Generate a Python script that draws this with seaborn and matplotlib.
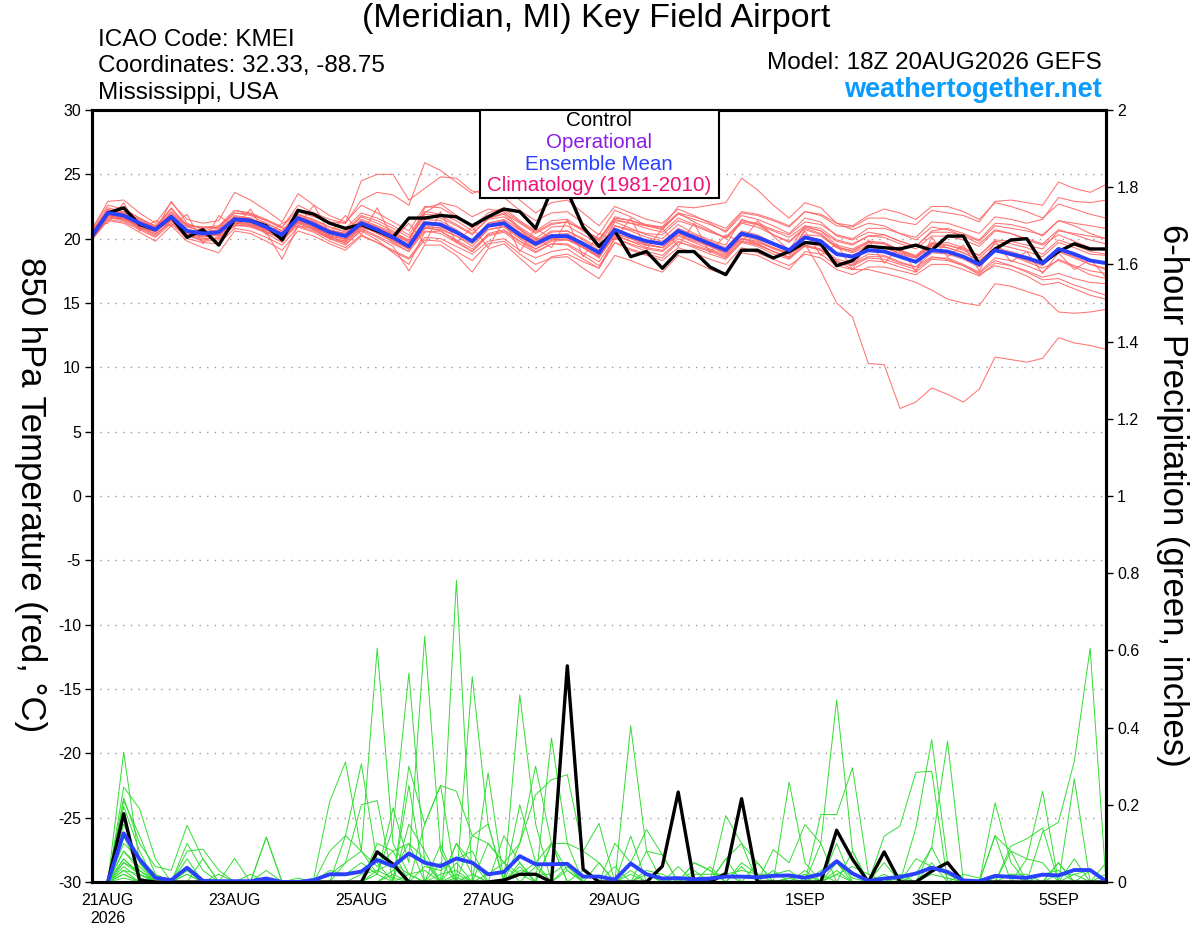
import pandas as pd
import numpy as np
import matplotlib
matplotlib.use("Agg")
import matplotlib.pyplot as plt
from matplotlib.patches import Rectangle
import seaborn as sns

###################################################################################
#################################### DATA #######################################
###################################################################################

# 6-hourly valid times, 20AUG2026 18Z .. 05SEP2026 18Z (65 steps)
times = pd.date_range("2026-08-20 18:00", "2026-09-05 18:00", freq="6h")

# 850 hPa temperature (C) - control run and ensemble mean
control_t = [20.2, 22.0, 22.4, 21.1, 20.7, 21.7, 20.1, 20.7, 19.5, 21.5, 21.4, 21.0, 19.9,
             22.2, 21.9, 21.2, 20.8, 21.1, 20.6, 20.1, 21.6, 21.6, 21.8, 21.7, 21.0, 21.7,
             22.3, 22.1, 20.8, 23.8, 23.7, 20.9, 19.4, 20.6, 18.6, 19.0, 17.7, 19.0, 19.0,
             17.8, 17.2, 19.1, 19.1, 18.5, 19.0, 19.7, 19.6, 17.9, 18.3, 19.4, 19.3, 19.2,
             19.5, 19.1, 20.2, 20.2, 18.0, 19.2, 19.9, 20.0, 18.1, 19.0, 19.6, 19.2, 19.2]
mean_t = [20.2, 22.0, 21.8, 21.2, 20.7, 21.7, 20.6, 20.4, 20.5, 21.5, 21.4, 20.9, 20.3,
          21.6, 21.1, 20.5, 20.2, 21.2, 20.7, 20.1, 19.4, 21.2, 21.1, 20.5, 19.8, 21.0,
          21.2, 20.3, 19.6, 20.2, 20.2, 19.6, 18.9, 20.7, 20.2, 19.8, 19.6, 20.6, 20.1,
          19.6, 19.1, 20.4, 20.1, 19.6, 19.1, 20.1, 19.8, 18.8, 18.6, 19.1, 19.0, 18.6,
          18.2, 19.1, 19.0, 18.6, 18.0, 19.1, 18.8, 18.5, 18.1, 19.2, 18.8, 18.3, 18.1]

# 850 hPa temperature (C) - ensemble members
t_m01 = [20.6, 22.4, 22.1, 21.5, 21.0, 22.3, 21.0, 20.9, 20.8, 22.0, 21.9, 21.4, 20.9,
         22.3, 21.8, 21.2, 20.8, 22.0, 21.6, 21.0, 20.3, 22.1, 21.9, 21.4, 20.6, 21.8,
         22.2, 21.3, 20.5, 21.2, 21.3, 20.7, 19.9, 21.7, 21.4, 21.0, 20.8, 21.9, 21.5,
         21.1, 20.6, 22.0, 21.8, 21.4, 20.9, 22.1, 21.8, 21.0, 20.9, 21.6, 21.6, 21.3,
         21.1, 22.2, 22.0, 21.8, 21.3, 22.9, 23.0, 22.8, 22.6, 24.4, 23.9, 23.6, 24.2]
t_m02 = [20.0, 21.6, 21.5, 20.9, 20.3, 21.4, 20.2, 19.9, 20.1, 21.2, 21.0, 20.6, 19.9,
         21.4, 20.8, 20.1, 19.8, 20.9, 20.5, 19.7, 19.0, 20.8, 20.7, 20.2, 19.4, 20.7,
         20.9, 20.0, 19.2, 19.9, 20.0, 19.3, 18.6, 20.4, 20.0, 19.5, 19.3, 20.5, 20.0,
         19.4, 18.8, 20.2, 19.9, 19.3, 18.9, 19.6, 17.5, 15.0, 13.9, 10.3, 10.2, 6.8,
         7.3, 8.4, 7.9, 7.3, 8.3, 10.8, 10.6, 10.4, 10.7, 12.3, 11.9, 11.7, 11.4]
t_m03 = [20.3, 21.8, 21.6, 21.0, 20.5, 21.5, 20.4, 20.3, 20.2, 21.3, 21.2, 20.7, 20.0,
         21.3, 20.9, 20.2, 20.0, 21.0, 20.4, 19.8, 19.2, 21.0, 20.8, 20.2, 19.6, 20.7,
         21.0, 20.1, 19.4, 20.0, 19.9, 19.3, 18.7, 20.4, 20.0, 19.6, 19.3, 20.3, 19.8,
         19.4, 18.9, 20.0, 19.8, 19.2, 18.8, 19.5, 19.2, 18.3, 17.6, 17.6, 17.3, 17.0,
         16.6, 16.0, 15.3, 15.0, 14.8, 16.5, 16.3, 15.9, 15.5, 14.3, 14.2, 14.3, 14.5]
t_m04 = [20.8, 22.6, 22.3, 21.6, 21.0, 22.1, 21.1, 20.8, 20.9, 22.2, 22.0, 21.5, 20.9,
         22.6, 22.0, 21.5, 21.2, 23.0, 23.6, 23.4, 22.6, 25.9, 25.3, 24.4, 23.5, 24.0,
         24.3, 23.0, 22.0, 22.8, 23.0, 22.0, 21.0, 22.5, 22.0, 21.5, 21.2, 22.3, 21.8,
         21.2, 20.5, 21.8, 21.5, 21.0, 20.4, 21.6, 21.3, 20.2, 19.9, 20.5, 20.3, 19.8,
         19.4, 20.5, 20.5, 20.3, 19.8, 21.0, 20.8, 20.6, 20.3, 21.4, 21.2, 21.0, 20.8]
t_m05 = [20.5, 22.2, 22.0, 21.3, 20.9, 21.9, 20.9, 20.6, 20.9, 22.0, 21.8, 21.2, 20.6,
         22.1, 21.7, 21.3, 21.2, 24.5, 25.0, 25.0, 23.0, 23.9, 24.8, 24.7, 23.7, 23.5,
         23.2, 22.2, 21.4, 22.0, 22.1, 21.2, 20.3, 22.2, 21.7, 21.0, 20.7, 22.0, 21.3,
         20.7, 20.0, 21.2, 20.9, 20.3, 19.8, 20.9, 20.6, 19.5, 19.2, 19.8, 19.7, 19.1,
         18.6, 19.6, 19.7, 19.3, 18.7, 19.8, 19.6, 19.3, 18.8, 19.9, 19.5, 19.0, 18.8]
t_m06 = [19.9, 21.4, 21.2, 20.5, 19.8, 21.0, 19.8, 19.3, 18.9, 20.6, 20.4, 19.8, 19.1,
         20.6, 20.2, 19.6, 19.1, 20.2, 19.7, 19.1, 18.5, 20.1, 20.0, 19.4, 18.8, 19.8,
         20.0, 19.1, 18.5, 19.0, 19.2, 18.4, 17.7, 19.7, 19.1, 18.7, 18.3, 19.3, 18.9,
         18.4, 18.0, 19.3, 18.9, 18.4, 17.9, 18.8, 18.5, 17.6, 17.2, 17.8, 17.8, 17.5,
         17.2, 18.0, 18.0, 17.6, 17.1, 18.1, 17.9, 17.5, 17.0, 17.3, 16.9, 16.6, 16.5]
t_m07 = [20.1, 22.1, 22.3, 21.6, 20.8, 22.4, 21.0, 20.5, 20.4, 21.7, 21.6, 20.9, 20.2,
         21.8, 21.3, 20.7, 20.4, 21.5, 21.0, 20.5, 19.9, 21.9, 21.8, 21.1, 20.4, 21.5,
         21.7, 20.9, 20.1, 19.3, 21.5, 18.6, 20.4, 19.9, 21.6, 19.2, 20.8, 19.4, 21.2,
         18.9, 20.3, 19.7, 21.4, 20.2, 19.1, 21.0, 20.8, 19.9, 19.6, 20.2, 20.3, 19.8,
         19.4, 20.6, 20.8, 20.4, 19.9, 21.2, 21.1, 20.8, 20.2, 21.4, 21.0, 20.4, 20.0]
t_m08 = [20.4, 21.7, 21.4, 20.8, 20.2, 21.4, 20.3, 19.8, 19.9, 21.0, 21.0, 20.4, 19.7,
         21.3, 20.7, 20.0, 19.5, 20.7, 20.1, 19.4, 17.5, 19.5, 19.5, 18.7, 17.4, 19.2,
         19.6, 18.5, 17.4, 18.6, 18.8, 18.2, 17.7, 20.1, 19.5, 19.0, 18.7, 19.8, 19.3,
         18.8, 18.4, 19.7, 19.4, 18.8, 18.4, 19.5, 19.1, 18.2, 17.9, 18.5, 18.4, 18.0,
         17.6, 18.5, 18.5, 18.0, 17.4, 18.5, 18.3, 17.9, 17.4, 18.4, 17.9, 17.5, 17.3]
t_m09 = [20.7, 22.9, 23.0, 22.0, 21.2, 22.8, 21.5, 21.2, 21.4, 23.6, 23.0, 22.2, 21.3,
         23.5, 22.6, 21.8, 21.3, 22.6, 22.0, 21.3, 20.6, 22.5, 22.4, 21.7, 20.9, 22.0,
         22.4, 21.4, 20.6, 21.4, 21.5, 20.7, 20.0, 21.5, 21.2, 20.8, 20.5, 21.6, 21.1,
         20.6, 20.1, 21.3, 21.1, 20.6, 20.1, 21.0, 20.6, 19.8, 19.5, 20.2, 20.1, 19.6,
         19.2, 20.2, 20.2, 19.9, 19.4, 20.6, 20.4, 20.0, 19.6, 20.7, 20.3, 19.9, 19.6]
t_m10 = [20.0, 21.9, 21.7, 20.8, 20.6, 22.9, 21.2, 20.7, 20.2, 21.3, 21.1, 20.5, 18.4,
         21.0, 20.8, 20.3, 20.0, 21.0, 20.5, 19.9, 19.2, 20.9, 20.6, 19.9, 19.2, 20.3,
         20.6, 19.8, 19.2, 19.8, 19.9, 19.4, 18.6, 20.2, 19.8, 19.5, 19.3, 20.4, 19.9,
         19.5, 19.0, 20.0, 19.7, 19.3, 18.8, 20.7, 20.3, 19.4, 19.0, 19.7, 19.6, 19.0,
         18.6, 19.6, 19.3, 18.9, 18.3, 19.2, 18.7, 18.2, 17.7, 18.3, 17.8, 17.2, 16.9]
t_m11 = [20.3, 22.3, 21.9, 21.4, 20.9, 21.8, 20.5, 20.1, 20.4, 21.6, 21.5, 21.2, 20.6,
         21.9, 21.4, 20.9, 20.5, 21.7, 21.2, 20.6, 19.8, 22.4, 22.7, 21.8, 20.9, 21.6,
         21.9, 20.7, 19.7, 20.5, 20.6, 19.9, 19.1, 21.3, 20.8, 20.3, 20.0, 21.1, 20.4,
         19.9, 19.5, 21.5, 21.1, 20.3, 19.7, 20.8, 20.4, 19.3, 19.1, 19.7, 19.6, 19.1,
         18.7, 19.7, 19.5, 19.1, 18.5, 19.6, 19.3, 19.0, 18.6, 19.7, 19.3, 18.8, 18.7]
t_m12 = [20.2, 21.9, 21.6, 21.0, 20.6, 21.6, 20.7, 20.5, 20.7, 21.7, 21.5, 21.0, 20.5,
         21.7, 21.3, 20.7, 20.3, 21.3, 20.9, 20.4, 19.7, 21.3, 21.2, 20.5, 19.9, 21.0,
         21.3, 20.5, 19.8, 20.6, 20.6, 20.0, 19.3, 21.0, 20.7, 20.4, 20.3, 21.4, 21.0,
         20.5, 20.1, 21.4, 21.2, 20.7, 20.3, 21.3, 21.1, 20.3, 20.0, 20.8, 20.8, 20.4,
         20.1, 21.3, 21.2, 20.8, 20.4, 21.7, 21.5, 21.2, 21.5, 23.2, 22.9, 22.8, 23.0]
t_m13 = [20.5, 21.8, 21.5, 21.1, 20.8, 21.5, 20.4, 20.2, 20.3, 21.2, 21.1, 20.7, 20.1,
         21.4, 20.9, 20.3, 19.9, 20.9, 20.5, 19.9, 19.2, 20.8, 20.9, 20.4, 19.8, 21.2,
         21.5, 20.7, 20.0, 20.9, 21.0, 20.3, 19.6, 21.4, 21.2, 21.0, 20.9, 22.5, 22.4,
         22.6, 22.8, 24.7, 23.8, 22.6, 21.6, 22.8, 22.4, 21.2, 20.7, 21.2, 21.0, 20.4,
         19.9, 20.9, 20.7, 20.2, 19.6, 20.7, 20.4, 19.9, 19.5, 20.3, 19.8, 19.3, 19.1]
t_m14 = [20.9, 21.2, 22.8, 20.6, 21.4, 21.0, 21.9, 19.6, 21.8, 20.9, 22.3, 20.3, 21.2,
         21.7, 21.0, 20.2, 19.6, 20.6, 19.9, 18.9, 18.0, 20.5, 20.6, 19.8, 19.0, 20.4,
         20.7, 19.8, 19.0, 19.6, 19.5, 18.7, 17.9, 19.7, 19.2, 18.8, 18.5, 19.7, 19.4,
         19.0, 18.5, 19.8, 19.6, 19.0, 18.5, 19.7, 19.4, 18.4, 18.1, 18.8, 18.7, 18.2,
         17.8, 18.9, 18.8, 18.4, 17.8, 19.0, 18.8, 18.3, 17.9, 19.0, 18.5, 18.0, 17.7]
t_m15 = [20.4, 22.1, 21.7, 21.2, 20.7, 21.8, 20.7, 20.4, 20.6, 21.4, 21.3, 20.8, 20.2,
         21.5, 21.1, 20.6, 20.4, 21.4, 20.9, 20.3, 19.7, 21.5, 21.4, 20.7, 19.9, 21.2,
         21.4, 20.5, 19.7, 20.3, 20.4, 19.7, 19.0, 20.6, 20.2, 19.9, 19.7, 20.8, 20.3,
         19.8, 19.3, 20.6, 20.3, 19.7, 19.2, 20.2, 19.9, 18.9, 18.7, 19.4, 19.3, 18.9,
         18.5, 19.4, 19.3, 18.9, 18.3, 19.3, 19.0, 18.6, 18.1, 19.0, 18.6, 18.0, 17.6]
t_m16 = [20.0, 21.5, 21.3, 20.7, 20.1, 21.2, 20.0, 19.7, 19.6, 20.8, 20.6, 20.1, 19.5,
         20.9, 20.5, 19.8, 19.3, 20.3, 19.7, 19.0, 18.4, 19.9, 19.8, 19.0, 18.3, 19.6,
         19.8, 18.8, 18.0, 18.5, 18.6, 17.7, 16.9, 18.7, 18.3, 17.8, 17.4, 18.7, 18.2,
         17.6, 17.2, 18.9, 18.7, 18.1, 17.6, 19.0, 18.8, 17.9, 17.6, 18.3, 18.2, 17.8,
         17.4, 18.4, 18.3, 17.9, 17.3, 18.3, 17.9, 17.4, 16.8, 16.9, 16.4, 16.0, 15.6]
t_m17 = [20.6, 22.2, 21.8, 21.2, 20.8, 21.6, 20.6, 20.5, 20.7, 21.8, 21.6, 21.0, 20.4,
         21.9, 21.5, 20.9, 20.6, 21.8, 21.4, 20.8, 20.1, 21.7, 21.6, 21.0, 20.3, 21.6,
         22.0, 21.2, 20.4, 21.1, 21.3, 20.6, 19.8, 21.6, 21.4, 21.1, 20.9, 22.0, 21.7,
         21.3, 20.8, 22.1, 21.9, 21.5, 21.0, 22.1, 21.9, 21.2, 21.0, 21.8, 22.3, 22.0,
         21.5, 22.5, 22.5, 22.1, 21.5, 22.8, 22.5, 22.1, 21.6, 22.7, 22.3, 21.9, 21.6]
t_m18 = [20.2, 21.9, 21.6, 20.9, 20.4, 21.2, 20.2, 20.2, 20.4, 21.5, 21.2, 20.7, 20.1,
         21.2, 20.7, 20.1, 19.8, 21.0, 20.7, 20.3, 19.9, 22.0, 22.8, 22.5, 21.7, 22.3,
         22.1, 20.8, 19.9, 20.3, 20.1, 19.3, 18.5, 20.3, 19.8, 19.3, 19.1, 20.2, 19.7,
         19.2, 18.7, 20.0, 19.6, 19.0, 18.5, 19.4, 19.1, 18.2, 18.0, 18.6, 18.6, 18.1,
         17.8, 18.6, 18.4, 17.9, 17.2, 17.9, 17.6, 17.1, 16.4, 16.6, 16.1, 15.6, 15.3]
t_m19 = [20.3, 22.0, 22.1, 21.3, 20.8, 22.0, 21.0, 20.9, 21.0, 22.2, 21.9, 21.4, 20.8,
         21.0, 22.6, 20.4, 21.8, 20.3, 22.4, 20.0, 21.2, 19.6, 22.1, 19.7, 20.9, 19.3,
         21.4, 19.0, 20.8, 20.0, 20.1, 19.6, 19.0, 21.0, 20.6, 20.1, 19.8, 20.7, 20.1,
         19.6, 19.2, 20.4, 20.1, 19.5, 19.0, 20.3, 20.2, 19.3, 18.9, 19.5, 19.3, 18.8,
         18.5, 19.5, 19.5, 19.2, 18.7, 19.9, 19.8, 19.5, 19.2, 20.6, 20.4, 20.2, 20.0]
t_m20 = [19.9, 21.7, 21.5, 21.0, 20.6, 21.4, 20.3, 20.0, 20.0, 21.1, 20.9, 20.5, 20.0,
         21.0, 20.6, 20.0, 19.7, 20.8, 20.2, 19.6, 19.0, 20.6, 20.4, 19.7, 19.0, 20.2,
         20.5, 19.6, 18.9, 19.6, 19.6, 18.9, 18.2, 20.0, 19.6, 19.2, 19.0, 20.0, 19.5,
         19.1, 18.6, 19.8, 19.5, 19.0, 18.6, 20.6, 18.7, 19.6, 17.6, 19.9, 18.1, 19.4,
         17.4, 20.1, 18.6, 19.5, 17.5, 19.8, 18.2, 19.0, 17.3, 18.9, 17.6, 18.4, 17.0]

# 6-hour precipitation (inches), valid 21AUG 00Z .. 05SEP 18Z (64 steps)
control_p = [0, .177, .005, 0, 0, 0, 0, 0, 0, 0, 0, 0, 0, 0, 0, 0,
             0, .078, .046, 0, 0, 0, 0, 0, 0, .005, .02, .02, 0, .56, .033, 0,
             0, 0, 0, .041, .233, 0, 0, .022, .216, 0, 0, 0, 0, 0, .134, .059,
             0, .078, 0, 0, .028, .05, 0, 0, 0, 0, 0, 0, 0, 0, 0, 0]
mean_p = [0, .126, .059, .011, .005, .037, .003, .002, .002, .002, .009, 0, 0, .005, .02, .02,
          .027, .057, .041, .074, .05, .041, .061, .05, .02, .026, .067, .046, .046, .047, .014, .014,
          .006, .048, .02, .009, .01, .007, .009, .014, .014, .012, .016, .017, .011, .02, .054, .022,
          .003, .009, .013, .022, .037, .026, .004, .002, .016, .013, .011, .019, .017, .031, .031, .002]

p_m01 = [0, .336, .05, 0, 0, .02, 0, 0, 0, 0, .03, 0, 0, 0, .02, .05,
         .08, .606, .1, .02, 0, 0, .01, 0, 0, 0, .02, .05, .1, .03, 0, 0,
         0, .03, 0, 0, .01, 0, 0, .02, 0, 0, 0, .01, .02, 0, .05, 0,
         0, 0, 0, .02, .09, .01, 0, 0, 0, .02, 0, .13, .155, .313, .606, 0]
p_m02 = [0, .246, .19, .06, 0, .1, .03, 0, 0, 0, .116, 0, 0, 0, 0, 0,
         0, .02, .192, .05, .637, .08, 0, .02, 0, 0, .2, .05, 0, 0, 0, .05,
         0, .405, .08, 0, 0, 0, 0, .06, 0, 0, 0, .259, .05, 0, 0, .08,
         0, 0, .02, 0, 0, 0, 0, 0, .205, .05, 0, 0, 0, .02, 0, 0]
p_m03 = [0, .218, .1, .04, .03, .147, .06, 0, .061, 0, .116, 0, 0, .01, .208, .311,
         .08, .02, .14, .541, .05, 0, .1, .02, 0, .12, .05, 0, .373, .1, 0, 0,
         .1, .05, .136, .07, 0, 0, 0, 0, 0, 0, .084, .05, .149, .1, .472, .08,
         0, 0, 0, .14, .369, .05, 0, 0, 0, 0, .06, .235, 0, 0, 0, 0]
p_m04 = [0, .21, .12, .02, 0, .08, .085, .03, 0, .02, 0, 0, 0, 0, .08, .12,
         .306, .05, 0, .3, .15, .25, .235, .12, .1, .05, .1, .226, .265, .278, .08, .152,
         0, 0, 0, 0, .04, 0, 0, .172, .1, 0, 0, 0, 0, .175, .175, .296,
         .02, 0, 0, 0, .09, .365, 0, 0, 0, .093, .112, .14, 0, 0, 0, 0]
p_m05 = [0, .196, .08, 0, 0, .06, 0, 0, 0, 0, 0, 0, 0, 0, 0, .05,
         .2, .211, 0, .25, 0, 0, .782, 0, .283, 0, .485, .15, 0, 0, 0, 0,
         0, .119, 0, 0, 0, .05, .03, 0, 0, 0, 0, 0, 0, 0, .1, 0,
         0, .119, .145, .284, .287, 0, .02, .01, 0, 0, 0, 0, 0, .267, 0, .05]
p_m06 = [0, .15, .05, 0, 0, 0, 0, 0, 0, 0, 0, 0, 0, 0, 0, 0,
         0, .1, .08, .1, 0, .096, 0, .532, .15, 0, .1, .3, .1, 0, 0, 0,
         0, 0, 0, 0, 0, 0, 0, 0, 0, .05, 0, 0, 0, 0, 0, 0,
         0, 0, 0, 0, 0, 0, 0, 0, .12, .08, 0, 0, 0, .06, 0, 0]
p_m07 = [0, .12, .03, 0, 0, .02, 0, 0, 0, 0, 0, 0, 0, 0, 0, 0,
         0, 0, 0, 0, 0, .05, 0, 0, 0, 0, 0, 0, 0, 0, 0, 0,
         0, 0, 0, 0, 0, 0, 0, 0, 0, 0, 0, 0, 0, 0, 0, 0,
         0, 0, 0, 0, 0, 0, 0, 0, 0, 0, 0, 0, 0, 0, 0, 0]
p_m08 = [0, .1, .06, .02, 0, 0, 0, 0, 0, 0, 0, 0, 0, 0, 0, 0,
         .02, .03, .01, 0, 0, 0, 0, 0, 0, 0, .02, 0, 0, 0, 0, 0,
         0, .05, .02, 0, 0, .03, 0, 0, 0, 0, 0, 0, .03, 0, .02, 0,
         0, .02, 0, 0, 0, 0, 0, 0, 0, 0, 0, .02, .03, 0, .03, 0]
p_m09 = [0, .08, .04, 0, 0, .04, 0, .02, 0, 0, 0, 0, 0, 0, .03, .02,
         .05, .02, 0, .02, .03, 0, .05, 0, .02, .05, .02, .02, .02, .05, 0, 0,
         0, 0, .03, .02, 0, .02, .02, .02, .03, .02, .02, .03, 0, 0, .02, .04,
         .02, 0, .01, 0, .02, .01, 0, 0, .01, .02, .02, 0, .02, .02, .03, 0]
p_m10 = [0, .06, .02, 0, 0, 0, 0, 0, 0, 0, 0, 0, 0, 0, 0, 0,
         0, 0, 0, 0, 0, 0, 0, 0, 0, 0, 0, 0, 0, 0, 0, 0,
         0, 0, 0, 0, 0, 0, 0, 0, 0, 0, 0, 0, 0, 0, 0, 0,
         0, 0, 0, 0, 0, 0, 0, 0, 0, 0, 0, 0, 0, 0, 0, 0]
p_m11 = [0, .05, .03, 0, 0, .03, 0, 0, 0, 0, 0, 0, 0, 0, 0, 0,
         0, .03, .05, .02, 0, .02, .03, 0, 0, 0, .03, .02, 0, 0, .03, 0,
         0, .02, 0, 0, 0, 0, .04, 0, .05, .02, 0, .01, 0, 0, .03, 0,
         0, 0, 0, 0, 0, 0, 0, 0, 0, 0, 0, 0, .05, 0, 0, 0]
p_m12 = [0, .04, .01, 0, 0, 0, 0, 0, 0, 0, 0, 0, 0, 0, 0, 0,
         0, 0, 0, 0, 0, 0, 0, 0, 0, 0, 0, 0, 0, 0, 0, 0,
         0, 0, 0, 0, 0, 0, 0, 0, 0, 0, 0, 0, 0, 0, 0, 0,
         0, 0, 0, 0, 0, 0, 0, 0, 0, 0, 0, 0, 0, 0, 0, 0]
p_m13 = [0, .02, 0, 0, 0, 0, 0, 0, 0, 0, 0, 0, 0, 0, 0, 0,
         0, 0, 0, .15, .08, 0, .1, .05, 0, 0, .05, 0, .1, 0, 0, 0,
         0, 0, 0, 0, 0, 0, 0, 0, 0, 0, 0, 0, 0, .03, .05, .01,
         0, 0, 0, 0, 0, 0, 0, 0, 0, 0, 0, 0, 0, 0, 0, 0]
p_m14 = [0, .03, .02, 0, 0, 0, 0, 0, 0, 0, 0, 0, 0, 0, 0, 0,
         0, 0, 0, 0, 0, 0, 0, 0, 0, 0, 0, 0, 0, 0, 0, 0,
         0, 0, 0, 0, 0, 0, 0, 0, 0, 0, 0, 0, 0, 0, 0, 0,
         0, 0, 0, 0, 0, 0, 0, 0, 0, 0, 0, 0, 0, 0, 0, 0]
p_m15 = [0, .01, 0, 0, 0, 0, 0, 0, 0, 0, 0, 0, 0, 0, 0, 0,
         0, 0, 0, 0, 0, 0, 0, 0, 0, 0, 0, 0, 0, 0, 0, 0,
         0, 0, 0, 0, 0, 0, 0, 0, 0, 0, 0, 0, 0, 0, 0, 0,
         0, 0, 0, 0, 0, 0, 0, 0, 0, 0, 0, 0, 0, 0, 0, 0]
p_m16 = [0, .08, .03, 0, 0, 0, .06, 0, 0, 0, 0, 0, 0, 0, 0, .12,
         .08, .04, .08, 0, .15, .25, 0, .12, .15, 0, .04, 0, .1, .1, .08, .05,
         0, 0, .08, .07, 0, 0, 0, .06, .1, .05, 0, 0, 0, .1, 0, 0,
         0, .05, 0, 0, .05, 0, 0, 0, .12, 0, 0, 0, 0, 0, 0, 0]
p_m17 = [0, .05, .02, 0, 0, 0, 0, 0, 0, 0, 0, 0, .01, 0, 0, 0,
         0, 0, .03, .1, .06, 0, .02, 0, .1, .05, 0, 0, 0, .04, 0, 0,
         0, 0, 0, 0, 0, .05, .03, 0, 0, 0, 0, 0, 0, 0, 0, 0,
         0, 0, 0, .06, .04, .02, 0, 0, 0, .08, .06, .05, 0, 0, 0, 0]
p_m18 = [0, .03, 0, 0, 0, 0, 0, 0, 0, 0, 0, 0, 0, 0, 0, 0,
         0, 0, .02, 0, .04, .03, .06, .08, 0, 0, 0, .04, 0, .03, 0, 0,
         .04, 0, .02, 0, 0, 0, 0, 0, .04, 0, .03, 0, 0, .02, 0, 0,
         0, 0, 0, 0, 0, 0, 0, 0, 0, 0, 0, 0, 0, 0, 0, 0]
p_m19 = [0, .02, 0, 0, 0, 0, 0, 0, 0, 0, 0, 0, 0, 0, 0, 0,
         0, 0, 0, 0, 0, 0, 0, 0, 0, 0, 0, 0, 0, 0, 0, 0,
         0, 0, 0, 0, 0, 0, 0, 0, 0, 0, 0, 0, 0, 0, 0, 0,
         0, 0, 0, 0, 0, 0, 0, 0, 0, 0, 0, 0, 0, 0, 0, 0]
p_m20 = [0, .06, .02, 0, 0, .03, 0, 0, 0, 0, 0, 0, 0, 0, 0, 0,
         0, 0, 0, 0, 0, 0, 0, 0, 0, 0, 0, 0, 0, 0, 0, 0,
         0, 0, 0, 0, 0, 0, 0, 0, 0, 0, 0, 0, 0, 0, 0, 0,
         0, 0, 0, 0, 0, 0, 0, 0, 0, 0, 0, 0, .05, 0, 0, .02]

temp_members = [t_m01, t_m02, t_m03, t_m04, t_m05, t_m06, t_m07, t_m08, t_m09, t_m10,
                t_m11, t_m12, t_m13, t_m14, t_m15, t_m16, t_m17, t_m18, t_m19, t_m20]
precip_members = [p_m01, p_m02, p_m03, p_m04, p_m05, p_m06, p_m07, p_m08, p_m09, p_m10,
                  p_m11, p_m12, p_m13, p_m14, p_m15, p_m16, p_m17, p_m18, p_m19, p_m20]

tick_dates = ["2026-08-21", "2026-08-23", "2026-08-25", "2026-08-27", "2026-08-29",
              "2026-09-01", "2026-09-03", "2026-09-05"]
tick_labels = ["21AUG\n2026", "23AUG", "25AUG", "27AUG", "29AUG", "1SEP", "3SEP", "5SEP"]

temp_ticks = [30, 25, 20, 15, 10, 5, 0, -5, -10, -15, -20, -25, -30]
precip_ticks = [0, 0.2, 0.4, 0.6, 0.8, 1, 1.2, 1.4, 1.6, 1.8, 2]

#sanity check on the hand-typed series
bad = [f"t{i+1}:{len(v)}" for i, v in enumerate(temp_members + [control_t, mean_t]) if len(v) != len(times)]
bad += [f"p{i+1}:{len(v)}" for i, v in enumerate(precip_members + [control_p, mean_p]) if len(v) != len(times) - 1]
if bad:
    raise ValueError("bad lengths " + " ".join(bad))

###################################################################################
#################################### PLOT #######################################
###################################################################################

RED = "#ff6464"
GREEN = "#33dd33"
BLUE = "#2a40ff"

sns.set_style("white")
plt.rcParams["font.family"] = ["Liberation Sans", "DejaVu Sans"]
plt.rcParams["axes.unicode_minus"] = False
plt.rcParams["text.color"] = "black"
plt.rcParams["xtick.color"] = "black"
plt.rcParams["ytick.color"] = "black"

#long-form tables for seaborn
df_t = pd.concat([pd.DataFrame({"time": times, "member": f"m{i+1:02d}", "value": v})
                  for i, v in enumerate(temp_members)], ignore_index=True)
df_p = pd.concat([pd.DataFrame({"time": times[1:], "member": f"m{i+1:02d}", "value": v})
                  for i, v in enumerate(precip_members)], ignore_index=True)

fig = plt.figure(figsize=(12, 9.27), dpi=100)
ax = fig.add_axes([92 / 1200, 1 - 882 / 927, (1106 - 92) / 1200, (882 - 110) / 927])
ax2 = ax.twinx()

#temperature on the left axis
sns.lineplot(data=df_t, x="time", y="value", units="member", estimator=None,
             color=RED, lw=0.75, alpha=0.9, legend=False, ax=ax)
sns.lineplot(x=times, y=control_t, color="black", lw=2.4, ax=ax)
sns.lineplot(x=times, y=mean_t, color=BLUE, lw=2.8, ax=ax)

#precipitation on the right axis
sns.lineplot(data=df_p, x="time", y="value", units="member", estimator=None,
             color=GREEN, lw=0.7, legend=False, ax=ax2)
sns.lineplot(x=times[1:], y=control_p, color="black", lw=2.4, ax=ax2)
sns.lineplot(x=times[1:], y=mean_p, color=BLUE, lw=2.8, ax=ax2)

ax.set_xlim(times[0], times[-1])
ax.set_ylim(-30, 30)
ax2.set_ylim(0, 2)

ax.set_yticks(temp_ticks)
ax.set_yticklabels([f"{t:g}" for t in temp_ticks])
ax2.set_yticks(precip_ticks)
ax2.set_yticklabels([f"{p:g}" for p in precip_ticks])
ax.set_xticks(pd.to_datetime(tick_dates))
ax.set_xticklabels(tick_labels)

ax.set_xlabel("")
ax.set_ylabel("")
ax2.set_ylabel("")

for a in (ax, ax2):
    for s in a.spines.values():
        s.set_linewidth(2.2)
        s.set_color("black")
    a.tick_params(axis="both", which="major", length=5, width=1, color="black",
                  labelcolor="black", labelsize=11.5, pad=3)

#dotted horizontal guides at the temperature ticks
ax.yaxis.grid(True, linestyle=(0, (1, 4.5)), color="#999999", lw=1)
ax.xaxis.grid(False)

#header text
fig.text(0.497, 1 - 19 / 927, "(Meridian, MI) Key Field Airport", ha="center", va="center", fontsize=24.5)
fig.text(98 / 1200, 1 - 40 / 927, "ICAO Code: KMEI", ha="left", va="center", fontsize=17.5)
fig.text(98 / 1200, 1 - 66 / 927, "Coordinates: 32.33, -88.75", ha="left", va="center", fontsize=17.5)
fig.text(98 / 1200, 1 - 93 / 927, "Mississippi, USA", ha="left", va="center", fontsize=17.5)
fig.text(1102 / 1200, 1 - 63 / 927, "Model: 18Z 20AUG2026 GEFS", ha="right", va="center", fontsize=17.5)
fig.text(1102 / 1200, 1 - 90 / 927, "weathertogether.net", ha="right", va="center",
         fontsize=19.5, fontweight="bold", color="#0a9bff")

#axis titles
fig.text(30 / 1200, 1 - 495 / 927, "850 hPa Temperature (red, °C)", rotation=270,
         ha="center", va="center", fontsize=25)
fig.text(1172 / 1200, 1 - 495 / 927, "6-hour Precipitation (green, inches)", rotation=270,
         ha="center", va="center", fontsize=25)

#legend box drawn over the lines
box = Rectangle((480 / 1200, 1 - 198 / 927), (719 - 480) / 1200, (198 - 110) / 927,
                transform=fig.transFigure, facecolor="white", edgecolor="black", lw=1.5, zorder=5)
fig.add_artist(box)
legend_items = [("Control", "black"), ("Operational", "#8a1ee6"),
                ("Ensemble Mean", BLUE), ("Climatology (1981-2010)", "#ee1177")]
for k, (txt, col) in enumerate(legend_items):
    fig.text(599 / 1200, 1 - (121 + 21.5 * k) / 927, txt, ha="center", va="center",
             fontsize=14.8, color=col, zorder=6)

fig.savefig("out.png", dpi=100)
